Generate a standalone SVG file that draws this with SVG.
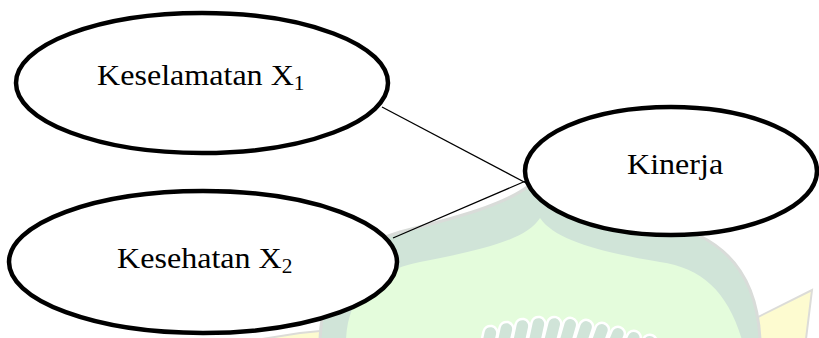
<svg xmlns="http://www.w3.org/2000/svg" width="819" height="338" viewBox="0 0 819 338">
  <style>
    .node { fill: #ffffff; stroke: #000000; stroke-width: 4.5; }
    .label { font-family: "Liberation Serif", "Times New Roman", serif; font-size: 30px; fill: #000000; }
    .sub { font-size: 20px; }
    .edge { stroke: #000000; stroke-width: 1.3; fill: none; }
    .band { fill: #d0e4d8; stroke: #d9dcd9; stroke-width: 3; }
    .inner { fill: #e4fcdc; }
    .gold { fill: #fdfbd0; stroke: #dcdcd8; stroke-width: 2; }
    .arch { fill: #d0e4d8; stroke: #ffffff; stroke-width: 2.5; }
  </style>

  <rect x="0" y="0" width="819" height="338" fill="#ffffff"/>

  <!-- faint emblem in the background -->
  <g id="emblem">
    <path class="gold" d="M 262 339 L 300 333 L 330 330 L 332 339 Z"/>
    <path class="gold" d="M 756 339 L 756 318 L 812 290 L 806 339 Z"/>
    <path class="band" d="M 320 340 C 322 282 350 246 400 232 C 455 218 505 205 530 185 L 700 236 C 740 256 758 292 760 340 Z"/>
    <path class="inner" d="M 346 340 C 348 296 372 272 420 262 C 482 250 526 240 540 218 C 555 240 600 252 660 262 C 702 268 728 292 742 340 Z"/>
    <g>
      <rect class="arch" x="484" y="326" width="14" height="30" rx="7" transform="rotate(12 491 330)"/>
      <rect class="arch" x="500" y="322" width="14" height="30" rx="7" transform="rotate(12 507 326)"/>
      <rect class="arch" x="516" y="319" width="14" height="30" rx="7" transform="rotate(12 523 323)"/>
      <rect class="arch" x="532" y="317" width="14" height="30" rx="7" transform="rotate(12 539 321)"/>
      <rect class="arch" x="548" y="317" width="14" height="30" rx="7" transform="rotate(14 555 321)"/>
      <rect class="arch" x="564" y="318" width="14" height="30" rx="7" transform="rotate(16 571 322)"/>
      <rect class="arch" x="580" y="320" width="14" height="30" rx="7" transform="rotate(18 587 324)"/>
      <rect class="arch" x="596" y="323" width="14" height="30" rx="7" transform="rotate(20 603 327)"/>
      <rect class="arch" x="612" y="327" width="14" height="30" rx="7" transform="rotate(22 619 331)"/>
      <rect class="arch" x="628" y="331" width="14" height="30" rx="7" transform="rotate(24 635 335)"/>
      <rect class="arch" x="644" y="335" width="14" height="30" rx="7" transform="rotate(26 651 339)"/>
    </g>
  </g>

  <!-- connectors -->
  <g id="connectors">
    <line class="edge" x1="382" y1="107" x2="528" y2="184"/>
    <line class="edge" x1="393" y1="238" x2="528" y2="180"/>
  </g>

  <g id="node-keselamatan">
    <ellipse class="node" cx="202" cy="83" rx="186" ry="70"/>
    <g transform="translate(97 85) scale(1.07 1)">
      <text class="label" x="0" y="0">Keselamatan X<tspan class="sub" dy="5">1</tspan></text>
    </g>
  </g>

  <g id="node-kesehatan">
    <ellipse class="node" cx="203" cy="262" rx="194" ry="71"/>
    <g transform="translate(117 268) scale(1.07 1)">
      <text class="label" x="0" y="0">Kesehatan X<tspan class="sub" dy="5">2</tspan></text>
    </g>
  </g>

  <g id="node-kinerja">
    <ellipse class="node" cx="671" cy="171" rx="146" ry="64"/>
    <g transform="translate(627 174) scale(1.07 1)">
      <text class="label" x="0" y="0">Kinerja</text>
    </g>
  </g>
</svg>
